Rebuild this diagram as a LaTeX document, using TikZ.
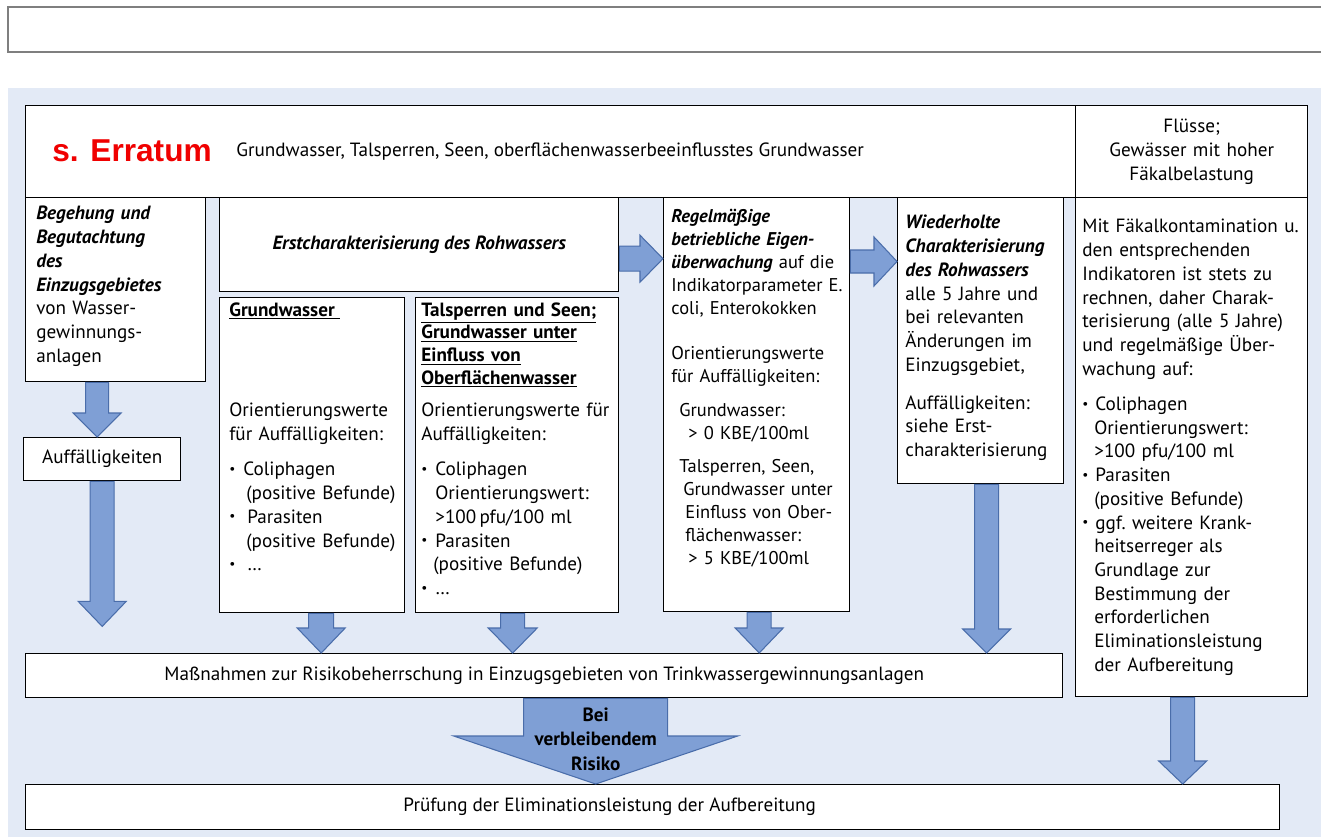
\documentclass[tikz,border=0pt]{standalone}
\usepackage{fontspec}
\usepackage{graphicx}
\setmainfont{PT Sans}
\newfontfamily\erratafont{Liberation Sans}
\usetikzlibrary{calc,positioning}

\definecolor{bgblue}{HTML}{E3EAF6}
\definecolor{arrfill}{HTML}{7F9FD5}
\definecolor{arrline}{HTML}{4A6DAA}
\definecolor{errred}{HTML}{F00000}
\definecolor{framegray}{HTML}{7F7F7F}

% block arrows: start, tip, half shaft, half head, head length
\newcommand{\fatdown}[5]{%
  \draw[fatarrow] ($(#1)+(-#3,0)$) -- ($(#2)+(-#3,-#5)$) -- ($(#2)+(-#4,-#5)$) -- (#2)
    -- ($(#2)+(#4,-#5)$) -- ($(#2)+(#3,-#5)$) -- ($(#1)+(#3,0)$) -- cycle;}
\newcommand{\fatright}[5]{%
  \draw[fatarrow] ($(#1)+(0,-#3)$) -- ($(#2)+(-#5,-#3)$) -- ($(#2)+(-#5,-#4)$) -- (#2)
    -- ($(#2)+(-#5,#4)$) -- ($(#2)+(-#5,#3)$) -- ($(#1)+(0,#3)$) -- cycle;}
% list items
\newcommand{\itm}[1]{\makebox[#1][l]{\raisebox{0.25ex}{\scalebox{0.7}{\textbullet}}}}
\newcommand{\cnt}[1]{\hspace*{#1}}
\newcommand{\bi}{\bfseries\itshape}
\newcommand{\bodyfont}{\fontsize{10.9}{13.5}\selectfont}

\tikzset{
  every node/.style={font=\bodyfont},
  box/.style={draw, line width=0.8pt, fill=white, inner sep=0pt, anchor=north west},
  txt/.style={inner sep=0pt, anchor=north west, align=left},
  fatarrow/.style={fill=arrfill, draw=arrline, line width=0.6pt, line join=miter},
}

\begin{document}
\begin{tikzpicture}[x=0.2mm,y=-0.2mm]
\useasboundingbox (0,0) rectangle (1321,837);
% frame and background
\draw[framegray, line width=0.7pt] (8,7) rectangle (1340,52);
\fill[bgblue] (8,88) rectangle (1340,850);

% boxes
\node[box, minimum width=210mm, minimum height=18.4mm] (head) at (25,105) {};
\node[box, minimum width=46.4mm, minimum height=18.4mm] (flu) at (1075,105) {};
\node[box, minimum width=36mm, minimum height=36.8mm] (beg) at (25,197) {};
\node[box, minimum width=79.8mm, minimum height=18.8mm] (erst) at (219,197) {};
\node[box, minimum width=37mm, minimum height=63mm] (gw) at (219,297) {};
\node[box, minimum width=40.6mm, minimum height=63mm] (tal) at (415,297) {};
\node[box, minimum width=37.2mm, minimum height=82.8mm] (reg) at (663,197) {};
\node[box, minimum width=33.2mm, minimum height=57.2mm] (wie) at (897,197) {};
\node[box, minimum width=46.4mm, minimum height=99.8mm] (rb) at (1075,197) {};
\node[box, minimum width=31.4mm, minimum height=8.6mm] (auf) at (23,437) {};
\node[box, minimum width=207.4mm, minimum height=8.8mm] (mass) at (25,653) {};
\node[box, minimum width=250.8mm, minimum height=9mm] (pruef) at (25,784) {};

% texts
\node[anchor=west, inner sep=0pt, font=\erratafont\bfseries\fontsize{18}{20}\selectfont, text=errred]
  (erratum) at ($(head.west)+(27,-1)$) {s. Erratum};
\node[anchor=west, inner sep=0pt] (headtxt) at ($(head.west)+(211,0)$)
  {Grundwasser, Talsperren, Seen, oberflächenwasserbeeinflusstes Grundwasser};
\node[align=center, text width=45mm, inner sep=0pt] (flutxt) at (flu.center)
  {Flüsse;\\Gewässer mit hoher\\Fäkalbelastung};
\node[txt, text width=33mm] (begtxt) at ($(beg.north west)+(11,9)$)
  {{\bi Begehung und\\Begutachtung\\des\\Einzugsgebietes}\\von Wasser-\\gewinnungs-\\anlagen};
\node[font=\bi\bodyfont] (ersttxt) at (erst.center)
  {Erstcharakterisierung des Rohwassers};
\node[txt, font=\bfseries\bodyfont] (gwhead) at ($(gw.north west)+(10,5)$)
  {\underline{Grundwasser~}};
\node[txt, text width=35mm] (gwtxt) at ($(gw.north west)+(10,106)$)
  {Orientierungswerte\\für Auffälligkeiten:\\[6.5pt]
   \itm{2.8mm}Coliphagen\\\cnt{3.4mm}(positive Befunde)\\
   \itm{3.6mm}Parasiten\\\cnt{3.4mm}(positive Befunde)\\
   \itm{3.6mm}\dots};
\node[txt, text width=39mm, font=\bfseries\fontsize{10.9}{12.9}\selectfont] (talhead) at ($(tal.north west)+(6,5)$)
  {\underline{Talsperren und Seen;}\\\underline{Grundwasser unter}\\\underline{Einfluss von}\\\underline{Oberflächenwasser}};
\node[txt, text width=39mm] (taltxt) at ($(tal.north west)+(6,106)$)
  {Orientierungswerte für\\Auffälligkeiten:\\[6.5pt]
   \itm{2.8mm}Coliphagen\\\cnt{2.8mm}Orientierungswert:\\\cnt{2.8mm}>100\,pfu/100 ml\\
   \itm{2.8mm}Parasiten\\\cnt{2.4mm}(positive Befunde)\\
   \itm{2.8mm}\dots};
\node[txt, text width=36.5mm, font=\fontsize{10.5}{13.1}\selectfont] (regtxt) at ($(reg.north west)+(8,12)$)
  {{\bi Regelmäßige\\betriebliche Eigen-\\überwachung} auf die\\Indikatorparameter E.\\coli, Enterokokken\\[12.5pt]
   Orientierungswerte\\für Auffälligkeiten:\\[6pt]
   \cnt{1.6mm}Grundwasser:\\\cnt{3.4mm}> 0 KBE/100ml\\[6pt]
   \cnt{1.6mm}Talsperren, Seen,\\\cnt{2.4mm}Grundwasser unter\\\cnt{2.8mm}Einfluss von Ober-\\
   \cnt{2.8mm}flächenwasser:\\\cnt{3.4mm}> 5 KBE/100ml};
\node[txt, text width=32mm] (wietxt) at ($(wie.north west)+(8,18)$)
  {{\bi Wiederholte\\Charakterisierung\\des Rohwassers}\\alle 5 Jahre und\\bei relevanten\\Änderungen im\\Einzugsgebiet,\\[8pt]
   Auffälligkeiten:\\siehe Erst-\\charakterisierung};
\node[txt, text width=45mm] (rbtxt) at ($(rb.north west)+(7,22)$)
  {Mit Fäkalkontamination u.\\den entsprechenden\\Indikatoren ist stets zu\\rechnen, daher Charak-\\terisierung (alle 5 Jahre)\\und regelmäßige Über-\\wachung auf:\\[6.5pt]
   \itm{2.6mm}Coliphagen\\\cnt{2.4mm}Orientierungswert:\\\cnt{2.4mm}>100 pfu/100 ml\\
   \itm{2.6mm}Parasiten\\\cnt{2.4mm}(positive Befunde)\\
   \itm{2.6mm}ggf.\ weitere Krank-\\\cnt{2.4mm}heitserreger als\\\cnt{2.4mm}Grundlage zur\\
   \cnt{2.4mm}Bestimmung der\\\cnt{2.4mm}erforderlichen\\\cnt{2.4mm}Eliminationsleistung\\\cnt{2.4mm}der Aufbereitung};
\node (auftxt) at (auf.center) {Auffälligkeiten};
\node (masstxt) at (mass.center)
  {Maßnahmen zur Risikobeherrschung in Einzugsgebieten von Trinkwassergewinnungsanlagen};
\node (pruetxt) at ($(pruef.center)+(-43,0)$) {Prüfung der Eliminationsleistung der Aufbereitung};

% arrows
\coordinate (a1t) at ($(beg.south)+(-18.5,0)$);
\coordinate (a1b) at (a1t |- auf.north);
\fatdown{a1t}{a1b}{11.5}{24}{24}
\coordinate (aufend) at ($(auf.south)+(0,145)$);
\fatdown{auf.south}{aufend}{12}{24}{25}
\coordinate (a3t) at ($(gw.south)+(9,0)$);
\coordinate (a3b) at (a3t |- mass.north);
\fatdown{a3t}{a3b}{12.5}{24}{25}
\coordinate (a4t) at ($(tal.south)+(-4.5,0)$);
\coordinate (a4b) at (a4t |- mass.north);
\fatdown{a4t}{a4b}{12}{24.5}{25}
\coordinate (a5t) at ($(reg.south)+(2.5,0)$);
\coordinate (a5b) at (a5t |- mass.north);
\fatdown{a5t}{a5b}{12}{24}{25}
\coordinate (a6t) at ($(wie.south)+(6,0)$);
\coordinate (a6b) at (a6t |- mass.north);
\fatdown{a6t}{a6b}{12}{24}{24}
\coordinate (a7t) at ($(rb.south)+(-9,0)$);
\coordinate (a7b) at (a7t |- pruef.north);
\fatdown{a7t}{a7b}{12}{24}{23}
\coordinate (a8t) at ($(mass.south)+(51.5,0)$);
\coordinate (a8b) at (a8t |- pruef.north);
\fatdown{a8t}{a8b}{72}{142}{48}
\node[font=\bfseries\fontsize{10.9}{14}\selectfont, align=center, inner sep=0pt] (risk)
  at ($(a8t)!0.5!(a8b)+(0,-2)$) {Bei\\verbleibendem\\Risiko};
\coordinate (r1s) at ($(erst.east)+(0,14)$);
\coordinate (r1e) at (r1s -| reg.west);
\fatright{r1s}{r1e}{12.5}{23.5}{23}
\coordinate (r2s) at ($(reg.north east)+(0,64.5)$);
\coordinate (r2e) at (r2s -| wie.west);
\fatright{r2s}{r2e}{11.5}{24.5}{23}
\end{tikzpicture}
\end{document}
